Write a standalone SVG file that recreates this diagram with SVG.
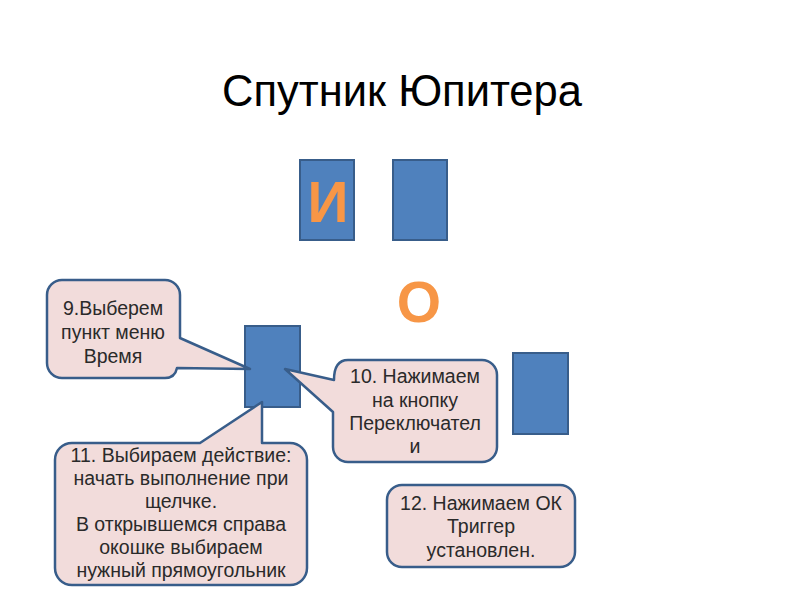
<svg xmlns="http://www.w3.org/2000/svg" width="800" height="600" viewBox="0 0 800 600">
<style>
.box{fill:#4F81BD;stroke:#385D8A;stroke-width:2}
.call{fill:#F2DCDB;stroke:#385D8A;stroke-width:2.5;stroke-linejoin:round}
.t{font-family:"Liberation Sans",Arial,sans-serif;font-size:19.5px;fill:#2a2a2a;text-anchor:middle}
.big{font-family:"Liberation Sans",Arial,sans-serif;font-weight:bold;font-size:57px;fill:#F79646;text-anchor:middle}
.title{font-family:"Liberation Sans",Arial,sans-serif;font-size:43.5px;fill:#000;text-anchor:middle}
</style>
<rect width="800" height="600" fill="#fff"/>
<text class="title" x="402" y="106">Спутник Юпитера</text>
<g id="rect-i">
<rect class="box" x="300" y="160" width="54" height="80"/>
<text class="big" x="328" y="222">И</text>
</g>
<g id="rect-2"><rect class="box" x="393" y="160" width="54" height="80"/></g>
<g id="letter-o"><text class="big" x="419" y="322">О</text></g>
<g id="rect-mid"><rect class="box" x="245" y="326" width="55" height="81"/></g>
<g id="rect-right"><rect class="box" x="513" y="353" width="55" height="81"/></g>
<g id="callouts">
<g id="c9">
<path class="call" d="M62,280 H165 A15,15 0 0 1 180,295 V338 L250,369 L177,368 Q175,378 165,378 H62 A15,15 0 0 1 47,363 V295 A15,15 0 0 1 62,280 Z"/>
<text class="t" x="113" y="315">9.Выберем</text>
<text class="t" x="113" y="339">пункт меню</text>
<text class="t" x="113" y="363">Время</text>
</g>
<g id="c10">
<path class="call" d="M348,360 H482 A15,15 0 0 1 497,375 V447 A15,15 0 0 1 482,462 H348 A15,15 0 0 1 333,447 V412 L285,369 L334,380 Q334,360 348,360 Z"/>
<text class="t" x="415" y="383">10. Нажимаем</text>
<text class="t" x="415" y="407">на кнопку</text>
<text class="t" x="415" y="430">Переключател</text>
<text class="t" x="415" y="453">и</text>
</g>
<g id="c11">
<path class="call" d="M72,443 H200 L262,402 V443 H290 A17,17 0 0 1 307,460 V568 A17,17 0 0 1 290,585 H72 A17,17 0 0 1 55,568 V460 A17,17 0 0 1 72,443 Z"/>
<text class="t" x="181" y="462">11. Выбираем действие:</text>
<text class="t" x="181" y="485">начать выполнение при</text>
<text class="t" x="181" y="508">щелчке.</text>
<text class="t" x="181" y="531">В открывшемся справа</text>
<text class="t" x="181" y="554">окошке выбираем</text>
<text class="t" x="181" y="577">нужный прямоугольник</text>
</g>
<g id="c12">
<rect class="call" x="387" y="485" width="188" height="82" rx="15"/>
<text class="t" x="481" y="510">12. Нажимаем ОК</text>
<text class="t" x="481" y="533">Триггер</text>
<text class="t" x="481" y="557">установлен.</text>
</g>
</g>
</svg>
